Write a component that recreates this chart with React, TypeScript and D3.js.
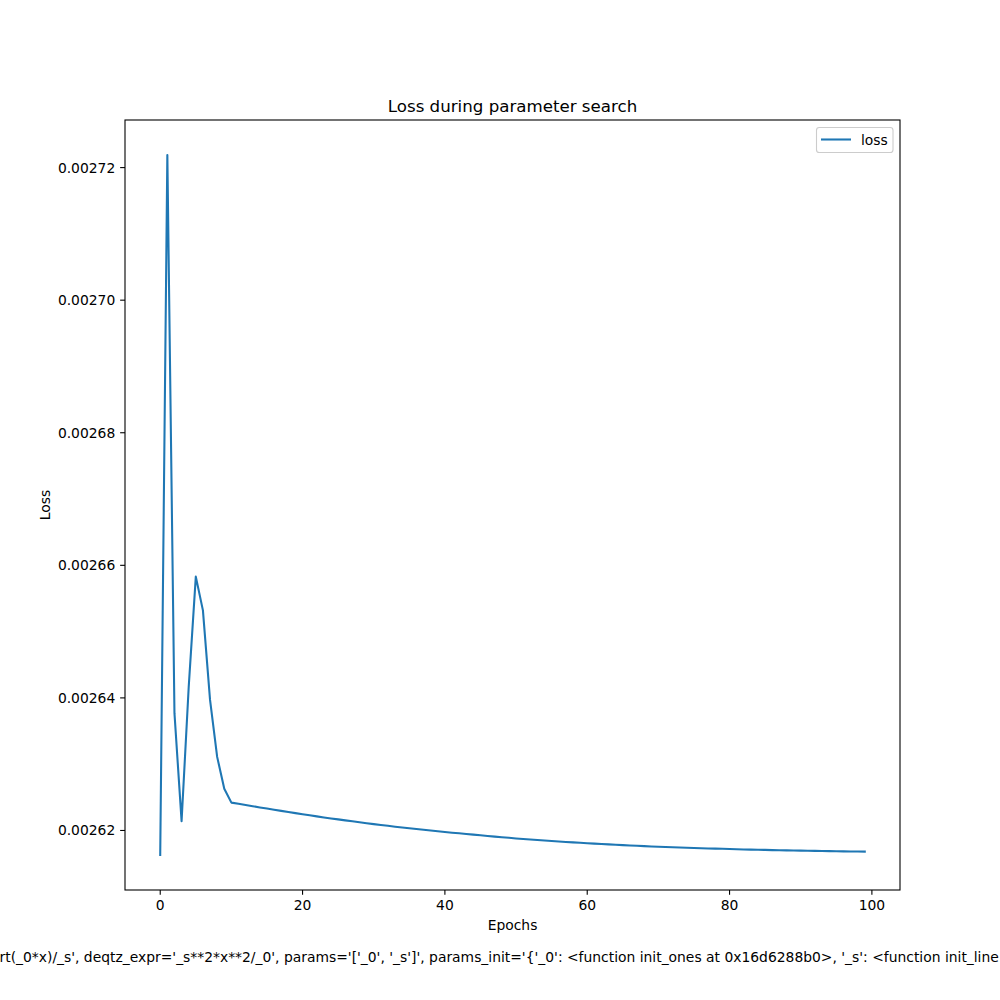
import React from "react";
import * as d3 from "d3";

const epochs: number[] = Array.from({ length: 100 }, (_, i) => i);
const loss: number[] = [
  0.0026163, 0.0027219, 0.0026377, 0.0026214, 0.0026416, 0.0026583, 0.0026532, 0.0026397, 0.0026311, 0.0026263,
  0.0026242, 0.00262402, 0.00262384, 0.00262366, 0.00262348, 0.00262331, 0.00262313, 0.00262296, 0.00262279, 0.00262262,
  0.00262245, 0.00262229, 0.00262213, 0.00262197, 0.00262182, 0.00262167, 0.00262152, 0.00262138, 0.00262124, 0.0026211,
  0.00262096, 0.00262083, 0.0026207, 0.00262057, 0.00262045, 0.00262033, 0.00262021, 0.0026201, 0.00261999, 0.00261988,
  0.00261977, 0.00261967, 0.00261957, 0.00261947, 0.00261937, 0.00261927, 0.00261917, 0.00261907, 0.00261898, 0.00261889,
  0.0026188, 0.00261871, 0.00261863, 0.00261855, 0.00261848, 0.00261841, 0.00261834, 0.00261827, 0.0026182, 0.00261814,
  0.00261808, 0.00261802, 0.00261796, 0.0026179, 0.00261784, 0.00261779, 0.00261774, 0.00261769, 0.00261764, 0.00261759,
  0.00261755, 0.00261751, 0.00261747, 0.00261743, 0.00261739, 0.00261735, 0.00261732, 0.00261729, 0.00261726, 0.00261723,
  0.0026172, 0.00261717, 0.00261714, 0.00261711, 0.00261709, 0.00261707, 0.00261704, 0.00261702, 0.002617, 0.00261698,
  0.00261696, 0.00261694, 0.00261692, 0.0026169, 0.00261689, 0.00261687, 0.00261685, 0.00261684, 0.00261682, 0.00261681,
];
const xTicks: number[] = [0, 20, 40, 60, 80, 100];
const yTicks: number[] = [0.00262, 0.00264, 0.00266, 0.00268, 0.0027, 0.00272];
const title = "Loss during parameter search";
const xLabel = "Epochs";
const yLabel = "Loss";
const seriesName = "loss";
const footText =
  "rt(_0*x)/_s', deqtz_expr='_s**2*x**2/_0', params='['_0', '_s']', params_init='{'_0': <function init_ones at 0x16d6288b0>, '_s': <function init_line";

const W = 1000, H = 1000;
const L = 125, R = 900, T = 120, B = 890;
const FONT = "DejaVu Sans, sans-serif";
const FS = 13.89;
const BLUE = "#1f77b4";

export default function App() {
  const xe = d3.extent(epochs) as [number, number];
  const xp = (xe[1] - xe[0]) * 0.05;
  const x = d3.scaleLinear().domain([xe[0] - xp, xe[1] + xp]).range([L, R]);
  const ye = d3.extent(loss) as [number, number];
  const yp = (ye[1] - ye[0]) * 0.05;
  const y = d3.scaleLinear().domain([ye[0] - yp, ye[1] + yp]).range([B, T]);
  const line = d3
    .line<number>()
    .x((_, i) => x(epochs[i]))
    .y((d) => y(d));
  const tl = 4.86;
  return (
    <svg
      width={W}
      height={H}
      viewBox={`0 0 ${W} ${H}`}
      style={{ position: "absolute", left: 0, top: 0, background: "#fff" }}
      fontFamily={FONT}
    >
      <rect x={0} y={0} width={W} height={H} fill="#fff" />
      <path d={line(loss) || ""} fill="none" stroke={BLUE} strokeWidth={2.08} strokeLinejoin="round" strokeLinecap="square" />
      <rect x={L} y={T} width={R - L} height={B - T} fill="none" stroke="#000" strokeWidth={1.1} />
      {xTicks.map((t) => (
        <g key={"x" + t}>
          <line x1={x(t)} x2={x(t)} y1={B} y2={B + tl} stroke="#000" strokeWidth={1.1} />
          <text x={x(t)} y={B + tl + 4.86 + 10.6} textAnchor="middle" fontSize={FS} fill="#000">
            {t}
          </text>
        </g>
      ))}
      {yTicks.map((t) => (
        <g key={"y" + t}>
          <line x1={L - tl} x2={L} y1={y(t)} y2={y(t)} stroke="#000" strokeWidth={1.1} />
          <text x={L - tl - 4.86} y={y(t)} dy="0.36em" textAnchor="end" fontSize={FS} fill="#000">
            {d3.format(".5f")(t)}
          </text>
        </g>
      ))}
      <text x={(L + R) / 2} y={T - 8.5} textAnchor="middle" fontSize={16.67} fill="#000">
        {title}
      </text>
      <text x={(L + R) / 2} y={930} textAnchor="middle" fontSize={FS} fill="#000">
        {xLabel}
      </text>
      <text
        transform={`translate(50, ${(T + B) / 2}) rotate(-90)`}
        textAnchor="middle"
        fontSize={FS}
        fill="#000"
      >
        {yLabel}
      </text>
      <g>
        <rect x={816.5} y={127.5} width={76.5} height={25} rx={2.8} fill="#fff" fillOpacity={0.8} stroke="#cccccc" strokeWidth={1.1} />
        <line x1={821} x2={851} y1={139.5} y2={139.5} stroke={BLUE} strokeWidth={2.08} />
        <text x={861} y={144.5} fontSize={FS} fill="#000">
          {seriesName}
        </text>
      </g>
      <text x={-0.5} y={962} fontSize={FS} fill="#000">
        {footText}
      </text>
    </svg>
  );
}
